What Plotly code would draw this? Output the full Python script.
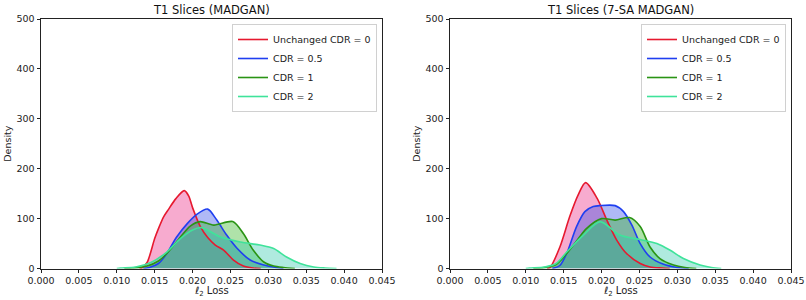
import plotly.graph_objects as go

series_names = ["Unchanged CDR = 0", "CDR = 0.5", "CDR = 1", "CDR = 2"]
panel_titles = ["T1 Slices (MADGAN)", "T1 Slices (7-SA MADGAN)"]

# ---- left panel (MADGAN) ----
l_red_x = [0.0130, 0.0133, 0.0140, 0.0150, 0.0155, 0.0162, 0.0168, 0.0178, 0.0189, 0.0195, 0.0200, 0.0210, 0.0220, 0.0230, 0.0241, 0.0254, 0.0267, 0.0280, 0.0290]
l_red_y = [0, 1, 12, 60, 80, 104, 118, 140, 156, 145, 122, 85, 62, 47, 37, 17, 5, 1, 0]
l_blue_x = [0.0135, 0.0143, 0.0155, 0.0166, 0.0179, 0.0193, 0.0206, 0.0220, 0.0232, 0.0245, 0.0259, 0.0276, 0.0294, 0.0310, 0.0320]
l_blue_y = [0, 2, 10, 30, 63, 90, 109, 119, 97, 67, 40, 17, 7, 2, 0]
l_green_x = [0.0110, 0.0120, 0.0140, 0.0155, 0.0166, 0.0184, 0.0197, 0.0210, 0.0228, 0.0253, 0.0267, 0.0280, 0.0294, 0.0307, 0.0320, 0.0335]
l_green_y = [0, 1, 5, 15, 30, 63, 85, 94, 87, 94, 70, 37, 13, 5, 2, 0]
l_teal_x = [0.0100, 0.0105, 0.0125, 0.0145, 0.0166, 0.0184, 0.0200, 0.0212, 0.0237, 0.0263, 0.0289, 0.0307, 0.0324, 0.0342, 0.0360, 0.0375, 0.0390]
l_teal_y = [0, 1, 3, 12, 33, 60, 77, 82, 63, 53, 47, 40, 23, 10, 3, 1, 0]

# ---- right panel (7-SA MADGAN) ----
r_red_x = [0.0128, 0.0132, 0.0145, 0.0158, 0.0169, 0.0179, 0.0194, 0.0207, 0.0220, 0.0233, 0.0251, 0.0264, 0.0280, 0.0290]
r_red_y = [0, 2, 43, 104, 147, 172, 141, 97, 57, 30, 10, 3, 1, 0]
r_blue_x = [0.0135, 0.0145, 0.0154, 0.0167, 0.0178, 0.0189, 0.0198, 0.0218, 0.0229, 0.0240, 0.0251, 0.0264, 0.0281, 0.0300, 0.0315]
r_blue_y = [0, 6, 30, 84, 114, 124, 126, 126, 114, 87, 50, 23, 9, 2, 0]
r_green_x = [0.0110, 0.0120, 0.0140, 0.0154, 0.0167, 0.0180, 0.0200, 0.0218, 0.0237, 0.0251, 0.0264, 0.0277, 0.0295, 0.0310, 0.0325]
r_green_y = [0, 1, 8, 30, 55, 80, 100, 97, 102, 84, 43, 20, 7, 2, 0]
r_teal_x = [0.0100, 0.0105, 0.0125, 0.0140, 0.0154, 0.0176, 0.0198, 0.0224, 0.0251, 0.0273, 0.0290, 0.0308, 0.0330, 0.0345, 0.0358]
r_teal_y = [0, 1, 3, 10, 33, 67, 94, 67, 58, 50, 37, 20, 7, 2, 0]

line_colors = ["#e6192f", "#1f3ff0", "#2a9414", "#3fe39a"]
fill_colors = ["rgba(235,45,135,0.40)", "rgba(45,70,232,0.38)", "rgba(45,180,30,0.38)", "rgba(45,200,170,0.38)"]

panels = [
    [(l_red_x, l_red_y), (l_blue_x, l_blue_y), (l_green_x, l_green_y), (l_teal_x, l_teal_y)],
    [(r_red_x, r_red_y), (r_blue_x, r_blue_y), (r_green_x, r_green_y), (r_teal_x, r_teal_y)],
]

fig = go.Figure()
font_family = "DejaVu Sans"

for p, data in enumerate(panels):
    xa = "x" if p == 0 else "x2"
    ya = "y" if p == 0 else "y2"
    leg = "legend" if p == 0 else "legend2"
    for i, (xs, ys) in enumerate(data):
        fig.add_trace(go.Scatter(x=xs, y=ys, mode="none", fill="tozeroy",
                                 fillcolor=fill_colors[i], line=dict(shape="spline", smoothing=0.8),
                                 showlegend=False, hoverinfo="skip", xaxis=xa, yaxis=ya))
    for i, (xs, ys) in enumerate(data):
        fig.add_trace(go.Scatter(x=xs, y=ys, mode="lines", name=series_names[i],
                                 line=dict(color=line_colors[i], width=1.6, shape="spline", smoothing=0.8),
                                 xaxis=xa, yaxis=ya, legend=leg))

W, H = 806, 300


def px(v):
    return v / W


def py(v):
    return 1 - v / H


doms = [(px(41), px(382)), (px(450), px(791))]
ydom = (py(268.5), py(19))

axis_common = dict(range=[0, 0.045], tickvals=[i * 0.005 for i in range(10)], tickformat=".3f",
                   showline=True, linecolor="#222", linewidth=1, mirror=True, ticks="outside",
                   ticklen=3.5, tickcolor="#222", showgrid=False, zeroline=False, automargin=False,
                   tickfont=dict(family=font_family, size=9.5, color="#222"))
yaxis_common = dict(range=[0, 500], tickvals=[0, 100, 200, 300, 400, 500],
                    showline=True, linecolor="#222", linewidth=1, mirror=True, ticks="outside",
                    ticklen=3.5, tickcolor="#222", showgrid=False, zeroline=False, automargin=False,
                    tickfont=dict(family=font_family, size=9.5, color="#222"))

legend_common = dict(y=py(24), xanchor="right", yanchor="top", bgcolor="white",
                     bordercolor="#d0d0d0", borderwidth=1, font=dict(family=font_family, size=9.5),
                     itemwidth=30, tracegroupgap=0)

fig.update_layout(
    width=W, height=H, margin=dict(l=0, r=0, t=0, b=0, autoexpand=False),
    paper_bgcolor="white", plot_bgcolor="white",
    font=dict(family=font_family, color="#222"),
    xaxis=dict(domain=list(doms[0]), anchor="y", **axis_common),
    yaxis=dict(domain=list(ydom), anchor="x", **yaxis_common),
    xaxis2=dict(domain=list(doms[1]), anchor="y2", **axis_common),
    yaxis2=dict(domain=list(ydom), anchor="x2", **yaxis_common),
    legend=dict(x=px(377), **legend_common),
    legend2=dict(x=px(786), **legend_common),
    showlegend=True,
)

annotations = []
for p in range(2):
    cx = (doms[p][0] + doms[p][1]) / 2
    annotations.append(dict(text=panel_titles[p], x=cx, y=py(10), xref="paper", yref="paper",
                            showarrow=False, font=dict(family=font_family, size=11.5, color="#111"),
                            xanchor="center", yanchor="middle"))
    annotations.append(dict(text="<i>ℓ</i><sub>2</sub> Loss", x=cx, y=py(291), xref="paper", yref="paper",
                            showarrow=False, font=dict(family=font_family, size=10, color="#222"),
                            xanchor="center", yanchor="middle"))
    ylab_x = px(8) if p == 0 else px(417)
    annotations.append(dict(text="Density", x=ylab_x, y=(ydom[0] + ydom[1]) / 2, xref="paper", yref="paper",
                            showarrow=False, textangle=-90, font=dict(family=font_family, size=9.5, color="#222"),
                            xanchor="center", yanchor="middle"))
fig.update_layout(annotations=annotations)

# remove the default 8px page margin so the 806x300 figure fills the window
fig.write_html("out.html", config={"displayModeBar": False},
               post_script="document.body.style.margin='0';")
